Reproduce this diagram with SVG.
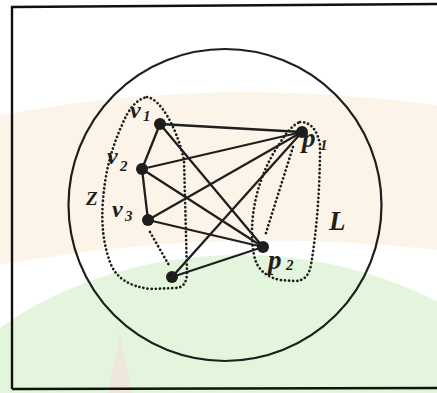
<svg xmlns="http://www.w3.org/2000/svg" width="437" height="393" viewBox="0 0 437 393">
  <style>
    .edge { stroke: #1e1e1e; stroke-width: 2.3; fill: none; stroke-linecap: round; }
    .dot { stroke: #1e1e1e; stroke-width: 2.7; fill: none; stroke-dasharray: 0.1 4; stroke-linecap: round; }
    .node { fill: #1e1e1e; }
    .lbl { font-family: "Liberation Serif", "Times New Roman", serif; font-style: italic; font-weight: bold; fill: #1e1e1e; }
    .main { font-size: 24px; }
    .pm { font-size: 27px; }
    .sub { font-size: 15px; }
  </style>
  <rect width="437" height="393" fill="#ffffff"/>
  <g id="background">
    <path d="M0,115 Q218,75 437,105 L437,250 Q218,225 0,265 Z" fill="#fcf4e8"/>
    <ellipse cx="240" cy="540" rx="360" ry="285" fill="#e4f5de"/>
    <path d="M108,393 L120,335 L132,393 Z" fill="#f6dada" opacity="0.5"/>
  </g>
  <g id="frame">
    <path d="M12,389 L12,7 L437,4" fill="none" stroke="#111" stroke-width="2.4"/>
    <path d="M12,389 L437,388" fill="none" stroke="#111" stroke-width="2.4"/>
  </g>
  <g id="boundary">
    <ellipse cx="225" cy="205" rx="156.5" ry="156" fill="none" stroke="#1e1e1e" stroke-width="2.2"/>
  </g>
  <g id="regions">
    <path class="dot" d="M147,97 C160,99 176,125 184,160 L187,272 Q187,288 175,288 L150,289 Q118,285 110,262 Q100,235 103,200 Q106,160 122,125 Q132,100 147,97 Z"/>
    <path class="dot" d="M150,232 L170,267"/>
    <path class="dot" d="M300,122 Q316,122 320,145 Q320,210 311,265 Q308,281 295,281 L280,280 Q262,276 256,262 Q250,245 253,215 Q258,175 280,143 Q290,126 300,122 Z"/>
    <path class="dot" d="M293,147 L265,236"/>
  </g>
  <g id="connectors">
    <line class="edge" x1="160" y1="124" x2="302" y2="132"/>
    <line class="edge" x1="160" y1="124" x2="142" y2="169"/>
    <line class="edge" x1="160" y1="124" x2="263" y2="247"/>
    <line class="edge" x1="142" y1="169" x2="302" y2="132"/>
    <line class="edge" x1="142" y1="169" x2="148" y2="220"/>
    <line class="edge" x1="142" y1="169" x2="263" y2="247"/>
    <line class="edge" x1="148" y1="220" x2="302" y2="132"/>
    <line class="edge" x1="148" y1="220" x2="263" y2="247"/>
    <line class="edge" x1="172" y1="277" x2="302" y2="132"/>
    <line class="edge" x1="172" y1="277" x2="263" y2="247"/>
  </g>
  <g id="v1">
    <circle class="node" cx="160" cy="124" r="6"/>
    <text class="lbl main" x="130" y="118">v</text>
    <text class="lbl sub" x="143" y="121">1</text>
  </g>
  <g id="v2">
    <circle class="node" cx="142" cy="169" r="6"/>
    <text class="lbl main" x="107" y="164">v</text>
    <text class="lbl sub" x="120" y="171">2</text>
  </g>
  <g id="v3">
    <circle class="node" cx="148" cy="220" r="6"/>
    <text class="lbl main" x="112" y="217">v</text>
    <text class="lbl sub" x="125" y="221">3</text>
  </g>
  <g id="v4">
    <circle class="node" cx="172" cy="277" r="6"/>
  </g>
  <g id="p1">
    <circle class="node" cx="302" cy="132" r="6"/>
    <text class="lbl pm" x="302" y="147">p</text>
    <text class="lbl sub" x="320" y="150">1</text>
  </g>
  <g id="p2">
    <circle class="node" cx="263" cy="247" r="6"/>
    <text class="lbl pm" x="268" y="269">p</text>
    <text class="lbl sub" x="286" y="270">2</text>
  </g>
  <g id="label-Z">
    <text class="lbl" x="86" y="205" font-size="19">Z</text>
  </g>
  <g id="label-L">
    <text class="lbl" x="329" y="230" font-size="27">L</text>
  </g>
</svg>
